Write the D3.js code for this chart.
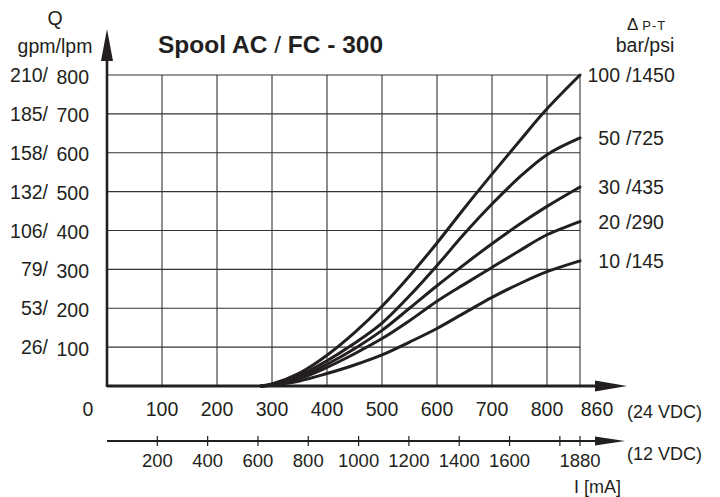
<!DOCTYPE html>
<html>
<head>
<meta charset="utf-8">
<script src="https://cdn.jsdelivr.net/npm/d3@7"></script>
<style>
  body { margin: 0; background: #fff; }
  svg { display: block; font-family: "Liberation Sans", Arial, sans-serif; fill: #231f20; }
</style>
</head>
<body>
<div id="chart"></div>
<script>
// current in mA (24 VDC)
const current = [280, 300, 350, 400, 450, 500, 550, 600, 650, 700, 750, 800, 860];
// flow in lpm for each pressure drop
const flow100 = [0, 5, 33, 79, 137, 205, 283, 368, 458, 545, 630, 713, 800];
const flow50  = [0, 4, 27, 65, 110, 162, 232, 310, 392, 468, 537, 595, 638];
const flow30  = [0, 3, 23, 56, 96, 143, 200, 258, 313, 366, 416, 462, 512];
const flow20  = [0, 3, 19, 48, 83, 122, 168, 218, 262, 305, 348, 389, 423];
const flow10  = [0, 2, 13, 32, 54, 80, 113, 148, 188, 228, 263, 294, 322];
const barLabels = ['100', '50', '30', '20', '10'];
const psiLabels = ['1450', '725', '435', '290', '145'];

const lpmTicks = [100, 200, 300, 400, 500, 600, 700, 800];
const gpmTicks = ['26', '53', '79', '106', '132', '158', '185', '210'];
const ticks24 = [0, 100, 200, 300, 400, 500, 600, 700, 800, 860];
const ticks12 = [200, 400, 600, 800, 1000, 1200, 1400, 1600, 1800, 1880];
const labels12 = [200, 400, 600, 800, 1000, 1200, 1400, 1600, 1880];

const series = [flow100, flow50, flow30, flow20, flow10];
const ink = '#231f20';

const svg = d3.select('#chart').append('svg')
    .attr('width', 720)
    .attr('height', 497);

const x24 = d3.scaleLinear().domain([0, 860]).range([107, 580]),
      x12 = d3.scaleLinear().domain([0, 1880]).range([107, 580]),
      y = d3.scaleLinear().domain([0, 800]).range([386, 75]);

// grid
svg.append('g').selectAll('line')
  .data(lpmTicks)
  .enter().append('line')
    .attr('x1', x24(0)).attr('x2', x24(860))
    .attr('y1', d => y(d)).attr('y2', d => y(d))
    .attr('stroke', '#333').attr('stroke-width', 1.1);

svg.append('g').selectAll('line')
  .data(ticks24.slice(1))
  .enter().append('line')
    .attr('x1', d => x24(d)).attr('x2', d => x24(d))
    .attr('y1', y(0)).attr('y2', y(800))
    .attr('stroke', '#333').attr('stroke-width', 1.1);

// y axis with arrow
svg.append('line')
  .attr('x1', x24(0)).attr('x2', x24(0))
  .attr('y1', y(0) + 1).attr('y2', 58)
  .attr('stroke', ink).attr('stroke-width', 2.6);
svg.append('path')
  .attr('d', `M${x24(0) - 6},61 L${x24(0) + 6},61 L${x24(0)},29 Z`)
  .attr('fill', ink);

// x axis (24 VDC) with arrow
svg.append('line')
  .attr('x1', x24(0)).attr('x2', 597)
  .attr('y1', y(0)).attr('y2', y(0))
  .attr('stroke', ink).attr('stroke-width', 2.8);
svg.append('path')
  .attr('d', `M595,${y(0) - 5.5} L595,${y(0) + 5.5} L627,${y(0)} Z`)
  .attr('fill', ink);

// second axis (12 VDC)
const y12 = 441;
svg.append('line')
  .attr('x1', x12(0)).attr('x2', 597)
  .attr('y1', y12).attr('y2', y12)
  .attr('stroke', ink).attr('stroke-width', 2.2);
svg.append('path')
  .attr('d', `M595,${y12 - 4.5} L595,${y12 + 4.5} L625,${y12} Z`)
  .attr('fill', ink);
svg.append('g').selectAll('line')
  .data(ticks12)
  .enter().append('line')
    .attr('x1', d => x12(d)).attr('x2', d => x12(d))
    .attr('y1', y12 - 5).attr('y2', y12 + 5)
    .attr('stroke', ink).attr('stroke-width', 1.2);

// curves
const line = d3.line()
  .x((d, i) => x24(current[i]))
  .y(d => y(d))
  .curve(d3.curveCatmullRom.alpha(0.5));

svg.append('g').selectAll('path')
  .data(series)
  .enter().append('path')
    .attr('d', line)
    .attr('fill', 'none')
    .attr('stroke', ink)
    .attr('stroke-width', 3)
    .attr('stroke-linecap', 'round');

// y labels
const yl = svg.append('g').style('font-size', '19.5px');
yl.selectAll('text.lpm')
  .data(lpmTicks)
  .enter().append('text')
    .attr('class', 'lpm')
    .attr('x', 89).attr('y', d => y(d) + 8.5)
    .attr('text-anchor', 'end')
    .text(d => d);
yl.selectAll('text.gpm')
  .data(gpmTicks)
  .enter().append('text')
    .attr('class', 'gpm')
    .attr('x', 48).attr('y', (d, i) => y(lpmTicks[i]) + 7)
    .attr('text-anchor', 'end')
    .text(d => d + '/');

svg.append('text').attr('x', 55).attr('y', 25)
  .attr('text-anchor', 'middle').style('font-size', '19.5px').text('Q');
svg.append('text').attr('x', 55).attr('y', 53)
  .attr('text-anchor', 'middle').style('font-size', '19.5px').text('gpm/lpm');

// title
const title = svg.append('text').attr('x', 158).attr('y', 53)
  .style('font-size', '24.5px').style('font-weight', 'bold');
title.append('tspan').text('Spool AC ');
title.append('tspan').style('font-weight', 'normal').text('/');
title.append('tspan').text(' FC - 300');

// x labels (24 VDC)
svg.append('g').selectAll('text')
  .data(ticks24)
  .enter().append('text')
    .attr('x', d => d === 0 ? 88 : d === 860 ? 597 : x24(d))
    .attr('y', 416)
    .attr('text-anchor', 'middle')
    .style('font-size', '19.5px')
    .text(d => d);
svg.append('text').attr('x', 627).attr('y', 418)
  .style('font-size', '18px').text('(24 VDC)');

// x labels (12 VDC)
svg.append('g').selectAll('text')
  .data(labels12)
  .enter().append('text')
    .attr('x', d => x12(d))
    .attr('y', 467)
    .attr('text-anchor', 'middle')
    .style('font-size', '18.5px')
    .text(d => d);
svg.append('text').attr('x', 627).attr('y', 460)
  .style('font-size', '18px').text('(12 VDC)');
svg.append('text').attr('x', 574).attr('y', 493)
  .style('font-size', '18px').text('I [mA]');

// pressure legend
const dp = svg.append('text').attr('x', 627).attr('y', 30);
dp.append('tspan').style('font-size', '17px').text('\u0394');
dp.append('tspan').attr('dx', 4).style('font-size', '13px')
  .style('letter-spacing', '1px').text('P-T');
svg.append('text').attr('x', 645).attr('y', 52)
  .attr('text-anchor', 'middle').style('font-size', '19.5px').text('bar/psi');

const lbl = svg.append('g').style('font-size', '19.5px');
lbl.selectAll('text.bar')
  .data(barLabels)
  .enter().append('text')
    .attr('class', 'bar')
    .attr('x', 620).attr('y', (d, i) => y(series[i][series[i].length - 1]) + 7)
    .attr('text-anchor', 'end')
    .text(d => d);
lbl.selectAll('text.psi')
  .data(psiLabels)
  .enter().append('text')
    .attr('class', 'psi')
    .attr('x', 626).attr('y', (d, i) => y(series[i][series[i].length - 1]) + 7)
    .text(d => '/' + d);
</script>
</body>
</html>
